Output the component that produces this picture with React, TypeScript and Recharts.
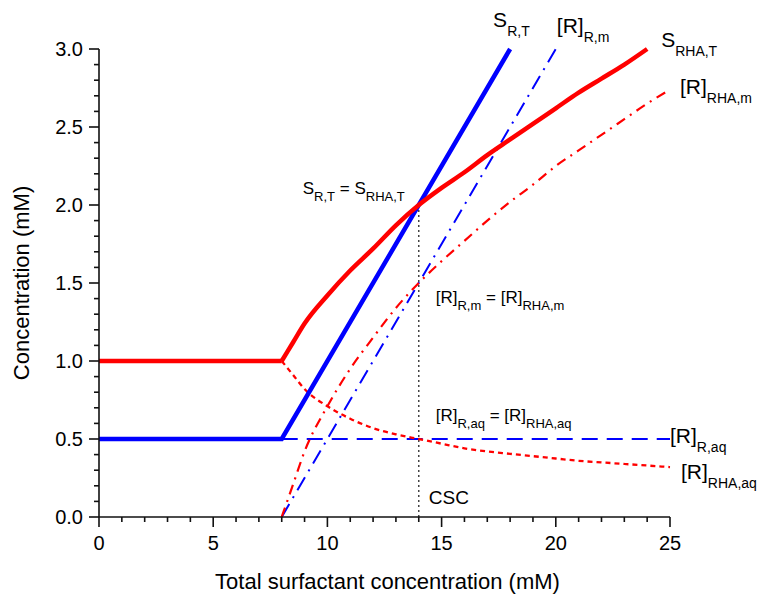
import { LineChart, Line, XAxis, YAxis, ReferenceLine, ReferenceDot } from 'recharts';

const BLUE = '#0000FF';
const RED = '#FF0000';
const FONT = 'Arial, "Liberation Sans", sans-serif';

// x positions (mM) and concentrations (mM) for each curve
const sRTx = [0, 8, 18];
const sRT = [0.5, 0.5, 3.0];

const rRmX = [8, 20];
const rRm = [0, 3.0];

const rRaqX = [8, 25];
const rRaq = [0.5, 0.5];

const sRHAflatX = [0, 8];
const sRHAflat = [1.0, 1.0];
const sRHAx = [8, 8.5, 9, 10, 11, 12, 13, 14, 15, 16, 17, 18, 19, 20, 21, 22, 23, 24];
const sRHA = [1.0, 1.12, 1.24, 1.42, 1.58, 1.72, 1.87, 2.0, 2.11, 2.21, 2.32, 2.42, 2.52, 2.62, 2.72, 2.81, 2.9, 3.0];

const rhaX = [8, 8.5, 9, 10, 11, 12, 13, 14, 15, 16, 17, 18, 19, 20, 21, 22, 23, 24, 25];
const rhaM = [0, 0.21, 0.42, 0.71, 0.95, 1.15, 1.34, 1.5, 1.64, 1.77, 1.9, 2.02, 2.13, 2.25, 2.35, 2.45, 2.55, 2.65, 2.74];
const rhaAq = [1.0, 0.91, 0.82, 0.71, 0.63, 0.57, 0.53, 0.5, 0.47, 0.44, 0.42, 0.405, 0.39, 0.375, 0.36, 0.35, 0.34, 0.33, 0.32];

const xTicks = [0, 1, 2, 3, 4, 5, 6, 7, 8, 9, 10, 11, 12, 13, 14, 15, 16, 17, 18, 19, 20, 21, 22, 23, 24, 25];
const yTicks = [0, 0.1, 0.2, 0.3, 0.4, 0.5, 0.6, 0.7, 0.8, 0.9, 1.0, 1.1, 1.2, 1.3, 1.4, 1.5, 1.6, 1.7, 1.8, 1.9, 2.0,
  2.1, 2.2, 2.3, 2.4, 2.5, 2.6, 2.7, 2.8, 2.9, 3.0];

const CSC = 14;

const rows = (xs: number[], ys: number[]) => xs.map((x, i) => ({ x, y: ys[i] }));

// native tick lines give the minor length, majors get an extra bit here
function XTick({ x, y, payload }: any) {
  const v = Number(payload.value);
  const major = v % 5 === 0;
  if (!major) return <g />;
  return (
    <g>
      <path d={`M${x},${y}v5`} stroke="#111" strokeWidth={1.6} fill="none" />
      <text x={x} y={y + 28} textAnchor="middle" fontSize={20} fontFamily={FONT} fill="#000">{v}</text>
    </g>
  );
}

function YTick({ x, y, payload }: any) {
  const v = Number(payload.value);
  const major = Math.abs(v * 2 - Math.round(v * 2)) < 1e-6;
  if (!major) return <g />;
  return (
    <g>
      <path d={`M${x},${y}h-5`} stroke="#111" strokeWidth={1.6} fill="none" />
      <text x={x - 11} y={y + 7} textAnchor="end" fontSize={20} fontFamily={FONT} fill="#000">{v.toFixed(1)}</text>
    </g>
  );
}

type Part = [string, boolean];

function Ann({ cx, cy, dx, dy, parts, size, sub, shift }: any) {
  let low = false;
  return (
    <text x={cx + dx} y={cy + dy} fontSize={size} fontFamily={FONT} fill="#000" style={{ whiteSpace: 'pre' }}>
      {(parts as Part[]).map(([t, isSub], i) => {
        const d = isSub ? (low ? 0 : shift) : (low ? -shift : 0);
        low = isSub;
        return (
          <tspan key={i} dy={d} fontSize={isSub ? sub : size}>{t}</tspan>
        );
      })}
    </text>
  );
}

const notes: { x: number; y: number; dx: number; dy: number; parts: Part[]; size: number; sub: number; shift: number }[] = [
  { x: 18, y: 3.0, dx: -17, dy: -22, parts: [['S', false], ['R,T', true]], size: 21, sub: 14, shift: 9 },
  { x: 20, y: 3.0, dx: 1, dy: -16, parts: [['[R]', false], ['R,m', true]], size: 21, sub: 14, shift: 9 },
  { x: 24, y: 3.0, dx: 14, dy: -2, parts: [['S', false], ['RHA,T', true]], size: 21, sub: 14, shift: 9 },
  { x: 25, y: 2.74, dx: 10, dy: 4, parts: [['[R]', false], ['RHA,m', true]], size: 21, sub: 14, shift: 9 },
  { x: 25, y: 0.5, dx: 0, dy: 4, parts: [['[R]', false], ['R,aq', true]], size: 21, sub: 14, shift: 9 },
  { x: 25, y: 0.32, dx: 11, dy: 12, parts: [['[R]', false], ['RHA,aq', true]], size: 21, sub: 14, shift: 9 },
  { x: 14, y: 2.0, dx: -116, dy: -11, parts: [['S', false], ['R,T', true], [' = S', false], ['RHA,T', true]], size: 17, sub: 13, shift: 7 },
  { x: 14, y: 1.5, dx: 17, dy: 20, parts: [['[R]', false], ['R,m', true], [' = [R]', false], ['RHA,m', true]], size: 17, sub: 13, shift: 7 },
  { x: 14, y: 0.5, dx: 17, dy: -18, parts: [['[R]', false], ['R,aq', true], [' = [R]', false], ['RHA,aq', true]], size: 17, sub: 13, shift: 7 },
  { x: 14, y: 0, dx: 10, dy: -13, parts: [['CSC', false]], size: 19, sub: 13, shift: 7 },
];

export default function App() {
  return (
    <div style={{ position: 'absolute', left: 0, top: 0 }}>
      <LineChart width={758} height={596} margin={{ top: 49, right: 88, left: 9, bottom: 0 }}>
        <XAxis
          type="number"
          dataKey="x"
          domain={[0, 25]}
          ticks={xTicks}
          interval={0}
          height={79}
          tickSize={5}
          tickMargin={0}
          stroke="#111"
          tickLine={{ stroke: '#111', strokeWidth: 1.6 }}
          tick={<XTick />}
          axisLine={{ stroke: '#111', strokeWidth: 1.6 }}
          allowDuplicatedCategory={false}
          label={(props: any) => {
            const vb = props.viewBox;
            return (
              <text x={vb.x + vb.width / 2 + 3} y={vb.y + 72} textAnchor="middle" fontSize={22} fontFamily={FONT} fill="#000">
                Total surfactant concentration (mM)
              </text>
            );
          }}
        />
        <YAxis
          type="number"
          domain={[0, 3]}
          ticks={yTicks}
          interval={0}
          width={90}
          tickSize={5}
          tickMargin={0}
          stroke="#111"
          tickLine={{ stroke: '#111', strokeWidth: 1.6 }}
          tick={<YTick />}
          axisLine={{ stroke: '#111', strokeWidth: 1.6 }}
          label={(props: any) => {
            const vb = props.viewBox;
            const cy = vb.y + vb.height / 2;
            return (
              <text x={29} y={cy} transform={`rotate(-90 29 ${cy})`} textAnchor="middle" fontSize={22} fontFamily={FONT} fill="#000">
                Concentration (mM)
              </text>
            );
          }}
        />
        <ReferenceLine
          segment={[{ x: CSC, y: 0 }, { x: CSC, y: 2.0 }]}
          stroke="#444"
          strokeDasharray="2 3"
          strokeWidth={1.5}
        />
        <Line data={rows(rRaqX, rRaq)} dataKey="y" type="linear" stroke={BLUE} strokeWidth={1.8} strokeDasharray="16 9"
          dot={false} activeDot={false} isAnimationActive={false} />
        <Line data={rows(rhaX, rhaAq)} dataKey="y" type="monotone" stroke={RED} strokeWidth={2.3} strokeDasharray="5 4"
          dot={false} activeDot={false} isAnimationActive={false} />
        <Line data={rows(rRmX, rRm)} dataKey="y" type="linear" stroke={BLUE} strokeWidth={2} strokeDasharray="15 7 2 7"
          dot={false} activeDot={false} isAnimationActive={false} />
        <Line data={rows(rhaX, rhaM)} dataKey="y" type="monotone" stroke={RED} strokeWidth={2.2} strokeDasharray="10 6 2 6"
          dot={false} activeDot={false} isAnimationActive={false} />
        <Line data={rows(sRTx, sRT)} dataKey="y" type="linear" stroke={BLUE} strokeWidth={4.5}
          dot={false} activeDot={false} isAnimationActive={false} />
        <Line data={rows(sRHAflatX, sRHAflat)} dataKey="y" type="linear" stroke={RED} strokeWidth={4.5}
          dot={false} activeDot={false} isAnimationActive={false} />
        <Line data={rows(sRHAx, sRHA)} dataKey="y" type="monotone" stroke={RED} strokeWidth={4.5}
          dot={false} activeDot={false} isAnimationActive={false} />
        {notes.map((n, i) => (
          <ReferenceDot
            key={i}
            x={n.x}
            y={n.y}
            r={0}
            ifOverflow="visible"
            shape={(p: any) => (
              <Ann cx={p.cx} cy={p.cy} dx={n.dx} dy={n.dy} parts={n.parts} size={n.size} sub={n.sub} shift={n.shift} />
            )}
          />
        ))}
      </LineChart>
    </div>
  );
}
